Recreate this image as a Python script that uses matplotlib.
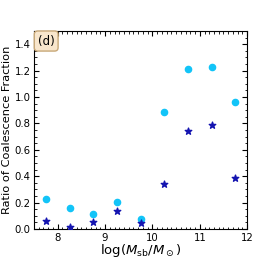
import matplotlib
matplotlib.use('Agg')
import matplotlib.pyplot as plt
from matplotlib.ticker import AutoMinorLocator

# 质量区间中心
log_mass = [7.75, 8.25, 8.75, 9.25, 9.75, 10.25, 10.75, 11.25, 11.75]
ratio_circle = [0.225, 0.161, 0.111, 0.202, 0.076, 0.884, 1.214, 1.230, 0.960]
ratio_star = [0.061, 0.015, 0.051, 0.136, 0.048, 0.343, 0.745, 0.788, 0.384]

fig = plt.figure(figsize=(2.74, 2.58), dpi=100)
ax = fig.add_axes([0.124, 0.112, 0.778, 0.768])

ax.scatter(log_mass, ratio_circle, marker='o', s=20, color='#12c4f8', zorder=3)
ax.scatter(log_mass, ratio_star, marker='*', s=24, color='#1414b0', zorder=3)

ax.set_xlim(7.5, 12)
ax.set_ylim(0, 1.5)
ax.set_xticks([8, 9, 10, 11, 12])
ax.set_yticks([0.0, 0.2, 0.4, 0.6, 0.8, 1.0, 1.2, 1.4])
ax.xaxis.set_minor_locator(AutoMinorLocator(10))
ax.yaxis.set_minor_locator(AutoMinorLocator(4))
ax.tick_params(which='both', direction='in', top=True, right=True, labelsize=7.3, pad=2.5)
ax.tick_params(which='major', length=3.5, width=0.8)
ax.tick_params(which='minor', length=1.8, width=0.6)

ax.set_xlabel(r'$\log(M_{\rm sb}/M_\odot)$', fontsize=9.5)
ax.set_ylabel('Ratio of Coalescence Fraction', fontsize=8.2)
ax.xaxis.set_label_coords(0.5, -0.064)
ax.yaxis.set_label_coords(-0.105, 0.5)

ax.text(0.018, 0.982, '(d)', transform=ax.transAxes, fontsize=8.5, va='top', ha='left',
        bbox=dict(boxstyle='round,pad=0.3', facecolor='#f8e6cc', edgecolor='#c8a878'))

fig.savefig('out.png', dpi=100)
